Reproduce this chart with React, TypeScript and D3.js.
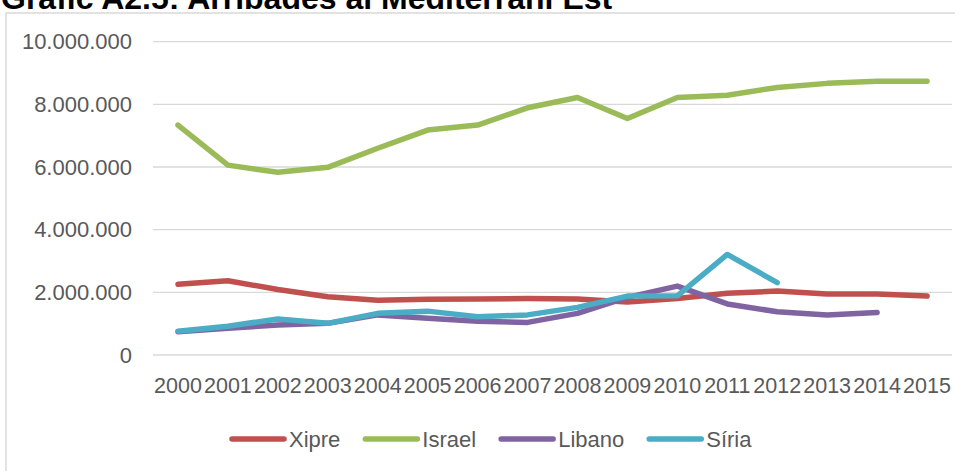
import React, { useEffect, useRef } from 'react';
import * as d3 from 'd3';

// Arribades al Mediterrani Est (2000-2015)
const years = ['2000', '2001', '2002', '2003', '2004', '2005', '2006', '2007', '2008', '2009', '2010', '2011', '2012', '2013', '2014', '2015'];

const xipre = [2260000, 2370000, 2090000, 1860000, 1750000, 1780000, 1790000, 1800000, 1790000, 1690000, 1800000, 1970000, 2040000, 1950000, 1950000, 1880000];
const israel = [7340000, 6060000, 5830000, 5990000, 6600000, 7180000, 7340000, 7890000, 8220000, 7550000, 8220000, 8290000, 8540000, 8670000, 8740000, 8740000];
const libano = [740000, 850000, 960000, 1010000, 1280000, 1170000, 1080000, 1040000, 1330000, 1840000, 2200000, 1630000, 1380000, 1280000, 1360000, null];
const siria = [760000, 920000, 1150000, 1010000, 1330000, 1400000, 1220000, 1280000, 1520000, 1880000, 1890000, 3210000, 2310000, null, null, null];

const yTicks = [0, 2000000, 4000000, 6000000, 8000000, 10000000];

const series = [
  { name: 'Xipre', color: '#C0504D', values: xipre },
  { name: 'Israel', color: '#9BBB59', values: israel },
  { name: 'Libano', color: '#8064A2', values: libano },
  { name: 'Síria', color: '#4BACC6', values: siria },
];

const W = 955;
const H = 471;
const FONT = '"Liberation Sans", Arial, sans-serif';

const fmt = (v: number) => d3.format(',')(v).replace(/,/g, '.');

const App: React.FC = () => {
  const svgRef = useRef<SVGSVGElement>(null);

  useEffect(() => {
    if (!svgRef.current) return;
    const svg = d3.select(svgRef.current);
    svg.selectAll('*').remove();

    const x = d3.scaleBand<string>().domain(years).range([153, 952]).padding(0);
    const cx = (d: string) => (x(d) as number) + x.bandwidth() / 2;
    const y = d3.scaleLinear().domain([0, 10000000]).range([355, 41.7]);

    // chart frame
    svg.append('rect')
      .attr('x', 6).attr('y', 13)
      .attr('width', 960).attr('height', 470)
      .attr('fill', '#fff')
      .attr('stroke', '#d9d9d9')
      .attr('stroke-width', 1.5);

    // title (its top is clipped in the source as well)
    svg.append('text')
      .attr('x', 1).attr('y', 9)
      .attr('font-family', FONT)
      .attr('font-weight', 'bold')
      .attr('font-size', 32)
      .attr('fill', '#000')
      .text('Gràfic A2.5: Arribades al Mediterrani Est');

    // gridlines
    svg.append('g')
      .selectAll('line')
      .data(yTicks)
      .enter()
      .append('line')
      .attr('x1', 153).attr('x2', 952)
      .attr('y1', d => y(d)).attr('y2', d => y(d))
      .attr('stroke', '#d9d9d9')
      .attr('stroke-width', 1.3);

    // y labels
    svg.append('g')
      .selectAll('text')
      .data(yTicks)
      .enter()
      .append('text')
      .attr('x', 132)
      .attr('y', d => y(d))
      .attr('dy', '0.35em')
      .attr('text-anchor', 'end')
      .attr('font-family', FONT)
      .attr('font-size', 22)
      .attr('fill', '#595959')
      .text(d => fmt(d));

    // x labels
    svg.append('g')
      .selectAll('text')
      .data(years)
      .enter()
      .append('text')
      .attr('x', d => cx(d))
      .attr('y', 393)
      .attr('text-anchor', 'middle')
      .attr('font-family', FONT)
      .attr('font-size', 21.5)
      .attr('fill', '#595959')
      .text(d => d);

    // lines
    const line = d3.line<number | null>()
      .defined(d => d !== null)
      .x((_, i) => cx(years[i]))
      .y(d => y(d as number));

    series.forEach(s => {
      svg.append('path')
        .datum(s.values)
        .attr('d', line)
        .attr('fill', 'none')
        .attr('stroke', s.color)
        .attr('stroke-width', 5.5)
        .attr('stroke-linejoin', 'round')
        .attr('stroke-linecap', 'round');
    });

    // legend
    const legend = svg.append('g');
    let lx = 230;
    const ly = 439;
    series.forEach(s => {
      legend.append('line')
        .attr('x1', lx + 2).attr('x2', lx + 54)
        .attr('y1', ly).attr('y2', ly)
        .attr('stroke', s.color)
        .attr('stroke-width', 5.5)
        .attr('stroke-linecap', 'round');
      const t = legend.append('text')
        .attr('x', lx + 59)
        .attr('y', ly + 7.5)
        .attr('font-family', FONT)
        .attr('font-size', 22)
        .attr('fill', '#595959')
        .text(s.name);
      const w = (t.node() as SVGTextElement).getComputedTextLength();
      lx = lx + 59 + w + 23;
    });
  }, []);

  return (
    <div style={{ position: 'fixed', left: 0, top: 0 }}>
      <svg ref={svgRef} width={W} height={H} style={{ display: 'block', background: '#fff' }} />
    </div>
  );
};

export default App;
